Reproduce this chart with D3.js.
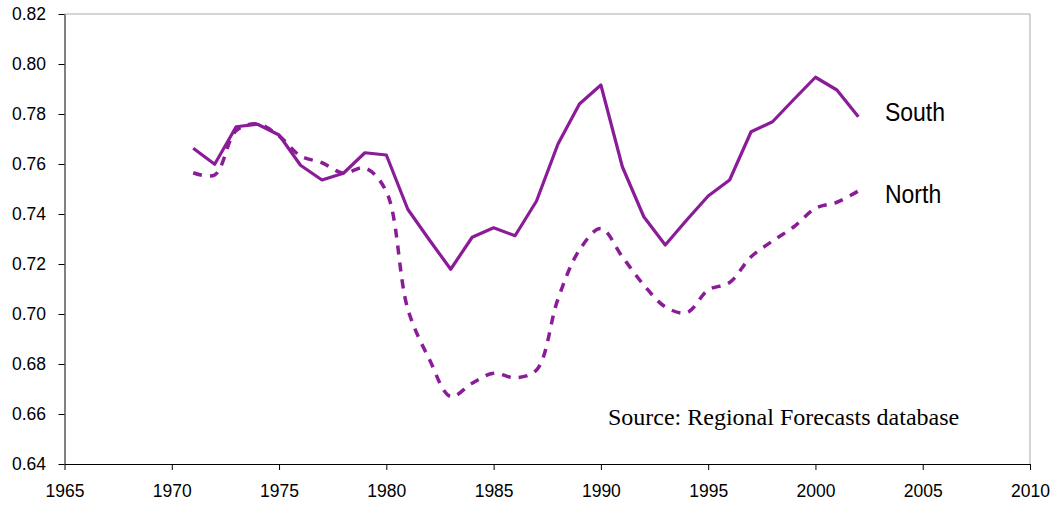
<!DOCTYPE html>
<html>
<head>
  <script src="https://cdn.jsdelivr.net/npm/d3@7"></script>
  <style>
    body { margin: 0; background: #fff; }
    .axis text { font-family: Arial, "Liberation Sans", sans-serif; font-size: 17.5px; fill: #000; }
    .axis path, .axis line { stroke: #000; }
    .lbl { font-family: Arial, "Liberation Sans", sans-serif; font-size: 23px; }
  </style>
</head>
<body>
  <svg id="chart"></svg>
  <script>
    var years = d3.range(1971, 2003);
    var south = [0.7663, 0.7599, 0.7749, 0.7759, 0.7716, 0.7595, 0.7536, 0.7563, 0.7645, 0.7636,
      0.7419, 0.7297, 0.7179, 0.7307, 0.7345, 0.7313, 0.7452, 0.7680, 0.7840, 0.7916,
      0.7589, 0.7389, 0.7276, 0.7376, 0.7472, 0.7536, 0.7729, 0.7769, 0.7859, 0.7947,
      0.7896, 0.7789];
    var north = [0.7565, 0.7556, 0.7733, 0.7760, 0.7712, 0.7632, 0.7605, 0.7563, 0.7584, 0.7490,
      0.7020, 0.6820, 0.6670, 0.6723, 0.6763, 0.6745, 0.6776, 0.7060, 0.7256, 0.7342,
      0.7229, 0.7116, 0.7029, 0.7005, 0.7096, 0.7126, 0.7229, 0.7292, 0.7349, 0.7423,
      0.7447, 0.7492];
    var xTicks = d3.range(1965, 2011, 5);
    var yTicks = [0.64, 0.66, 0.68, 0.70, 0.72, 0.74, 0.76, 0.78, 0.80, 0.82];

    var W = 1057, H = 505;
    var margin = { top: 14, right: 27, bottom: 41, left: 64.5 };
    var width = W - margin.left - margin.right,
      height = H - margin.top - margin.bottom;
    var color = '#8b1c98';

    var x = d3.scaleLinear().domain([1965, 2010]).range([0, width]);
    var y = d3.scaleLinear().domain([0.64, 0.82]).range([height, 0]);

    var svg = d3.select('#chart')
      .attr('width', W)
      .attr('height', H)
      .append('g')
      .attr('transform', 'translate(' + margin.left + ',' + margin.top + ')');

    // plot frame (top and right in grey)
    svg.append('line').attr('x1', 0).attr('x2', width).attr('y1', 0).attr('y2', 0)
      .attr('stroke', '#aaa');
    svg.append('line').attr('x1', width).attr('x2', width).attr('y1', 0).attr('y2', height)
      .attr('stroke', '#aaa');

    svg.append('g')
      .attr('class', 'axis')
      .attr('transform', 'translate(0,' + height + ')')
      .call(d3.axisBottom(x).tickValues(xTicks).tickFormat(d3.format('d'))
        .tickSizeInner(6).tickSizeOuter(0).tickPadding(15));

    svg.append('g')
      .attr('class', 'axis')
      .call(d3.axisLeft(y).tickValues(yTicks).tickFormat(d3.format('.2f'))
        .tickSizeInner(6).tickSizeOuter(0).tickPadding(12.5));

    var southLine = d3.line()
      .x((d, i) => x(years[i]))
      .y(d => y(d));
    var northLine = d3.line()
      .x((d, i) => x(years[i]))
      .y(d => y(d))
      .curve(d3.curveCatmullRom.alpha(0.5));

    svg.append('path')
      .datum(north)
      .attr('d', northLine)
      .attr('fill', 'none')
      .attr('stroke', color)
      .attr('stroke-width', 3.5)
      .attr('stroke-dasharray', '9,8');

    svg.append('path')
      .datum(south)
      .attr('d', southLine)
      .attr('fill', 'none')
      .attr('stroke', color)
      .attr('stroke-width', 3.2)
      .attr('stroke-linejoin', 'round');

    // series labels, slightly taller than plain Arial as in the original
    [['South', 0.7808], ['North', 0.7483]].forEach(function (s) {
      svg.append('text')
        .attr('class', 'lbl')
        .attr('transform', 'translate(' + x(2003.24) + ',' + y(s[1]) + ') scale(1,1.15)')
        .attr('dy', '0.35em')
        .text(s[0]);
    });

    svg.append('text')
      .attr('x', x(1990.33))
      .attr('y', y(0.6556))
      .style('font-family', '"Times New Roman", "Liberation Serif", serif')
      .style('font-size', '24px')
      .text('Source: Regional Forecasts database');
  </script>
</body>
</html>
